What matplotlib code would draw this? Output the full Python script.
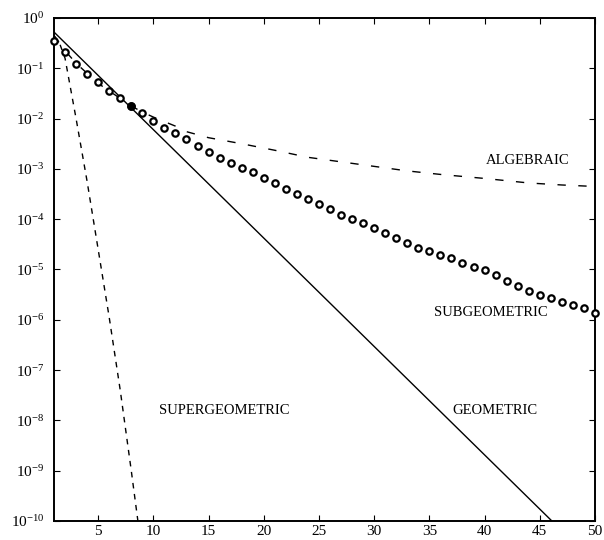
import matplotlib
matplotlib.use("Agg")
import matplotlib.pyplot as plt
import matplotlib.ticker as ticker
import numpy as np

plt.rcParams.update({
    "font.family": ["Liberation Serif", "DejaVu Serif"],
    "mathtext.fontset": "custom",
    "mathtext.rm": "Liberation Serif",
    "font.size": 10,
})

# --- data (log10 of the value) ---
sub_n = list(range(1, 51))
sub_log10 = [-0.46, -0.68, -0.91, -1.11, -1.27, -1.45, -1.59, -1.75, -1.89, -2.05,
             -2.19, -2.29, -2.41, -2.54, -2.66, -2.78, -2.89, -2.99, -3.07, -3.19,
             -3.29, -3.40, -3.50, -3.60, -3.70, -3.80, -3.92, -4.00, -4.08, -4.18,
             -4.27, -4.38, -4.47, -4.57, -4.63, -4.72, -4.78, -4.88, -4.96, -5.02,
             -5.11, -5.23, -5.33, -5.43, -5.50, -5.56, -5.65, -5.71, -5.77, -5.86]

geo_n = [1, 46.1]
geo_log10 = [-0.28, -10.0]

super_n = [1, 1.5, 2, 2.5, 3, 4, 5, 6, 7, 8, 8.6]
super_log10 = [-0.35, -0.5, -0.8, -1.4, -2.0, -3.25, -4.6, -5.95, -7.4, -9.0, -10.0]

alg_n = [1, 2, 3, 4, 5, 6, 7, 8, 9, 10, 12, 13, 15, 18, 21, 24, 27, 30, 33, 36,
         40, 44, 47, 50]
alg_log10 = [-0.35, -0.65, -0.9, -1.1, -1.3, -1.45, -1.6, -1.75, -1.87, -1.97,
             -2.15, -2.26, -2.38, -2.5, -2.63, -2.77, -2.86, -2.95, -3.04, -3.11,
             -3.19, -3.28, -3.32, -3.35]

x_ticks = [5, 10, 15, 20, 25, 30, 35, 40, 45, 50]
y_exps = list(range(0, -11, -1))

sub_y = 10.0 ** np.array(sub_log10)
geo_y = 10.0 ** np.array(geo_log10)
super_y = 10.0 ** np.array(super_log10)
alg_y = 10.0 ** np.array(alg_log10)

fig = plt.figure(figsize=(6.04, 5.40), dpi=100)
ax = fig.add_axes([0.0894, 0.0352, 0.8956, 0.9315])

ax.plot(geo_n, geo_y, color="black", lw=1.0)
ax.plot(super_n, super_y, color="black", lw=1.0, dashes=(4, 4))
ax.plot(alg_n, alg_y, color="black", lw=1.0, dashes=(6, 9))
ax.plot(sub_n, sub_y, "o", ms=4.6, mfc="white", mec="black", mew=1.6, clip_on=False, zorder=3)
ax.plot(sub_n[7], sub_y[7], "o", ms=4.6, mfc="black", mec="black", mew=1.6, zorder=4)

ax.set_yscale("log")
ax.set_xlim(1, 50)
ax.set_ylim(1e-10, 1)
ax.xaxis.set_major_locator(ticker.FixedLocator(x_ticks))
ax.yaxis.set_major_locator(ticker.FixedLocator([10.0 ** e for e in y_exps]))
ax.yaxis.set_minor_locator(ticker.NullLocator())
ax.set_yticklabels([r"$\mathregular{10^{%d}}$" % e for e in y_exps])
ax.tick_params(direction="in", length=4, width=0.8, top=True, right=True,
               labelsize=11)
ax.tick_params(axis="y", pad=7)
ax.tick_params(axis="x", pad=3)

for s in ax.spines.values():
    s.set_linewidth(1.4)

ax.text(528 / 604, 1 - 160 / 540, "ALGEBRAIC", transform=fig.transFigure,
        ha="center", va="center", fontsize=10.5)
ax.text(491 / 604, 1 - 312 / 540, "SUBGEOMETRIC", transform=fig.transFigure,
        ha="center", va="center", fontsize=10.5)
ax.text(224 / 604, 1 - 410 / 540, "SUPERGEOMETRIC", transform=fig.transFigure,
        ha="center", va="center", fontsize=10.5)
ax.text(495 / 604, 1 - 410 / 540, "GEOMETRIC", transform=fig.transFigure,
        ha="center", va="center", fontsize=10.5)

fig.savefig("out.png", dpi=100)
plt.close(fig)
